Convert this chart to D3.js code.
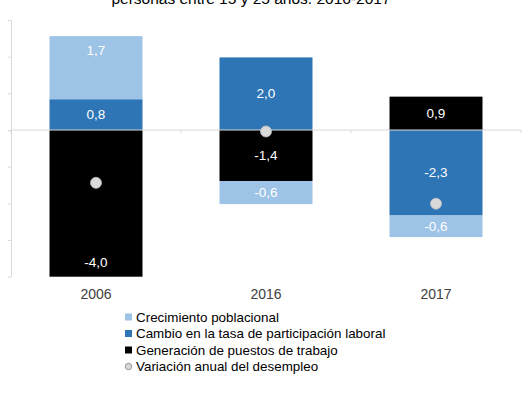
<!DOCTYPE html>
<html>
<head>
<meta charset="utf-8">
<script src="https://cdn.jsdelivr.net/npm/d3@7"></script>
<style>
  body { margin: 0; background: #fff; }
  svg { display: block; font-family: "Liberation Sans", Arial, sans-serif; }
</style>
</head>
<body>
<div class="chart"></div>
<script>
// data
var years = ["2006", "2016", "2017"];
var crecimiento = [1.72, -0.63, -0.59];
var cambioTasa = [0.84, 1.98, -2.33];
var generacion = [-4.0, -1.39, 0.91];
var variacion = [-1.44, -0.04, -2.01];
var yTicks = [-4, -3, -2, -1, 0, 1, 2, 3];
var seriesNames = ["Crecimiento poblacional", "Cambio en la tasa de participación laboral", "Generación de puestos de trabajo", "Variación anual del desempleo"];
var title = "personas entre 15 y 25 años. 2016-2017";

var svgWidth = 526;
var svgHeight = 398;

var colors = {
  crec: "#9dc3e6",
  cambio: "#2e75b6",
  gen: "#000000",
  dot: "#d9d9d9"
};

var svg = d3.select(".chart")
  .append("svg")
  .attr("width", svgWidth)
  .attr("height", svgHeight);

// table for d3.stack, stacking order: black/blue closest to zero, light last
var table = years.map(function(y, i) {
  return { year: y, gen: generacion[i], cambio: cambioTasa[i], crec: crecimiento[i] };
});
var keys = ["gen", "cambio", "crec"];
var stacked = d3.stack().keys(keys).offset(d3.stackOffsetDiverging)(table);

var x = d3.scaleBand().domain(years).range([11, 521])
  .paddingInner(0.453).paddingOuter(0.2265);
var y = d3.scaleLinear().domain([-4, 3]).range([276.7, 20]);

// y axis, no labels
var yAxis = svg.append("g")
  .attr("transform", "translate(11,0)")
  .call(d3.axisLeft(y).tickValues(yTicks).tickSize(3).tickSizeOuter(0).tickFormat(""));
yAxis.selectAll("path, line").attr("stroke", "#d9d9d9");

// bars
stacked.forEach(function(layer) {
  svg.append("g")
    .attr("fill", colors[layer.key])
    .selectAll("rect")
    .data(layer)
    .enter()
    .append("rect")
    .attr("x", function(d) { return x(d.data.year); })
    .attr("y", function(d) { return y(Math.max(d[0], d[1])); })
    .attr("width", x.bandwidth())
    .attr("height", function(d) { return Math.abs(y(d[0]) - y(d[1])); });
});

// zero line with category ticks
svg.append("line")
  .attr("x1", 11).attr("x2", 521)
  .attr("y1", y(0)).attr("y2", y(0))
  .attr("stroke", "#d9d9d9");
var bounds = [x.range()[0]].concat(years.map(function(d) { return x(d) + x.bandwidth() + x.step() * x.paddingInner() / 2; }));
svg.selectAll(".cattick")
  .data(bounds)
  .enter()
  .append("line")
  .attr("x1", function(d) { return Math.min(d, 521); })
  .attr("x2", function(d) { return Math.min(d, 521); })
  .attr("y1", y(0)).attr("y2", y(0) + 3)
  .attr("stroke", "#d9d9d9");

// value labels (two labels sit at the outer end of their segment)
var fmt = function(v) { return d3.format(".1f")(v).replace("\u2212", "-").replace(".", ","); };
var insideEnd = { "crec-2006": true, "gen-2006": true };
stacked.forEach(function(layer) {
  svg.selectAll(".lbl-" + layer.key)
    .data(layer)
    .enter()
    .append("text")
    .attr("x", function(d) { return x(d.data.year) + x.bandwidth() / 2; })
    .attr("y", function(d) {
      var top = y(Math.max(d[0], d[1]));
      var bot = y(Math.min(d[0], d[1]));
      var k = layer.key + "-" + d.data.year;
      if (insideEnd[k]) {
        return d.data[layer.key] > 0 ? top + 14 : bot - 14;
      }
      return (top + bot) / 2;
    })
    .attr("dy", "0.35em")
    .attr("text-anchor", "middle")
    .attr("fill", "#ffffff")
    .style("font-size", "13.5px")
    .text(function(d) { return fmt(d.data[layer.key]); });
});

// annual unemployment change markers
svg.selectAll(".dot")
  .data(variacion)
  .enter()
  .append("circle")
  .attr("cx", function(d, i) { return x(years[i]) + x.bandwidth() / 2; })
  .attr("cy", function(d) { return y(d); })
  .attr("r", 5.5)
  .attr("fill", colors.dot)
  .attr("stroke", "#bfbfbf")
  .attr("stroke-width", 0.8);

// category labels
svg.selectAll(".xlbl")
  .data(years)
  .enter()
  .append("text")
  .attr("x", function(d) { return x(d) + x.bandwidth() / 2; })
  .attr("y", 299)
  .attr("text-anchor", "middle")
  .attr("fill", "#404040")
  .style("font-size", "14px")
  .text(function(d) { return d; });

// title (upper lines fall outside the picture)
svg.append("text")
  .attr("x", 251)
  .attr("y", 4)
  .attr("text-anchor", "middle")
  .attr("fill", "#000")
  .style("font-size", "15.5px")
  .text(title);

// legend
var legend = svg.append("g").attr("transform", "translate(125,317)");
var legendColors = [colors.crec, colors.cambio, colors.gen];
seriesNames.forEach(function(name, i) {
  var row = legend.append("g").attr("transform", "translate(0," + (i * 16.5) + ")");
  if (i < 3) {
    row.append("rect")
      .attr("x", 0).attr("y", -3.5)
      .attr("width", 7).attr("height", 7)
      .attr("fill", legendColors[i]);
  } else {
    row.append("circle")
      .attr("cx", 3.5).attr("cy", 0).attr("r", 3.2)
      .attr("fill", colors.dot)
      .attr("stroke", "#8c8c8c")
      .attr("stroke-width", 0.9);
  }
  row.append("text")
    .attr("x", 11)
    .attr("y", 0)
    .attr("dy", "0.35em")
    .attr("fill", "#000")
    .style("font-size", "13.4px")
    .text(name);
});
</script>
</body>
</html>
